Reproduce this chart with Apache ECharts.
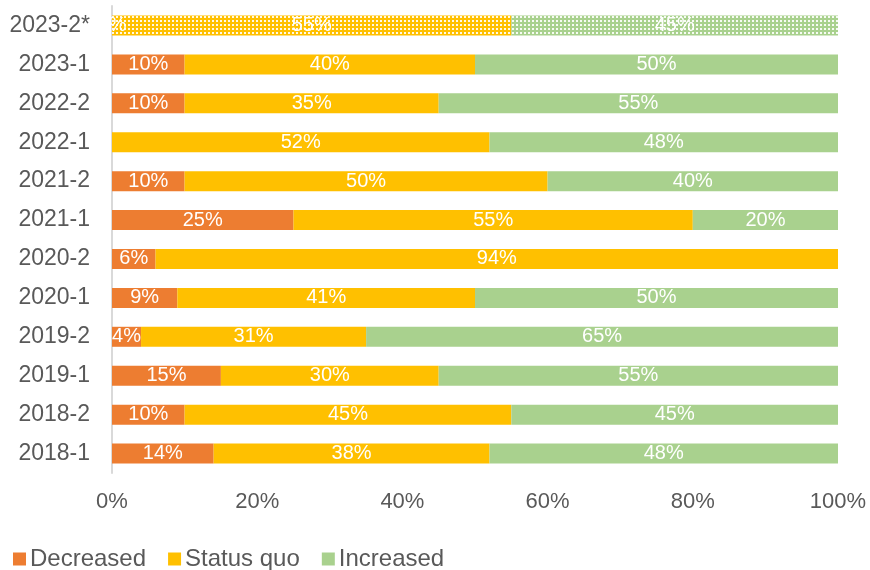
<!DOCTYPE html>
<html>
<head>
<meta charset="utf-8">
<script src="https://cdn.jsdelivr.net/npm/echarts@6/dist/echarts.min.js"></script>
<style>
  html, body { margin: 0; padding: 0; background: #fff; }
  #chart { width: 870px; height: 570px; }
</style>
</head>
<body>
<div id="chart"></div>
<script>
// Half-year periods, bottom to top
const periods = ['2018-1', '2018-2', '2019-1', '2019-2', '2020-1', '2020-2',
                 '2021-1', '2021-2', '2022-1', '2022-2', '2023-1', '2023-2*'];

// Share of responses (%) per period
const decreased  = [14, 10, 15, 4, 9, 6, 25, 10, null, 10, 10, 0];
const statusQuo  = [38, 45, 30, 31, 41, 94, 55, 50, 52, 35, 40, 55];
const increased  = [48, 45, 55, 65, 50, null, 20, 40, 48, 55, 50, 45];

const seriesNames = ['Decreased', 'Status quo', 'Increased'];
const colors = ['#ED7D31', '#FFC000', '#A9D18E'];

// Index of the forecast period, drawn with a dotted fill
const forecastIndex = periods.length - 1;

function dottedPattern(base) {
  const c = document.createElement('canvas');
  c.width = 4; c.height = 4;
  const ctx = c.getContext('2d');
  ctx.fillStyle = base;
  ctx.fillRect(0, 0, 4, 4);
  ctx.fillStyle = 'rgba(255,255,255,0.9)';
  ctx.fillRect(0, 0, 2, 2);
  return { image: c, repeat: 'repeat' };
}

function buildData(values, color) {
  return values.map((v, i) => {
    if (i === forecastIndex) {
      return { value: v, itemStyle: { color: dottedPattern(color) } };
    }
    return v;
  });
}

const chart = echarts.init(document.getElementById('chart'));
const font = 'Liberation Sans, Arial, sans-serif';

chart.setOption({
  animation: false,
  color: colors,
  textStyle: { fontFamily: font },
  grid: { left: 112, right: 32, top: 6, bottom: 97, containLabel: false },
  xAxis: {
    type: 'value',
    min: 0, max: 100, interval: 20,
    axisLine: { show: false },
    axisTick: { show: false },
    splitLine: { show: false },
    axisLabel: { formatter: '{value}%', color: '#595959', fontSize: 22, margin: 18, fontFamily: font }
  },
  yAxis: {
    type: 'category',
    data: periods,
    axisLine: { show: true, lineStyle: { color: '#D9D9D9', width: 2 } },
    axisTick: { show: false },
    axisLabel: { color: '#595959', fontSize: 23, margin: 22, fontFamily: font }
  },
  legend: {
    left: 8, top: 542,
    itemWidth: 13, itemHeight: 13, itemGap: 22,
    icon: 'rect',
    textStyle: { color: '#595959', fontSize: 24, fontFamily: font, padding: [0, 0, 0, -1] },
    data: seriesNames
  },
  series: [decreased, statusQuo, increased].map((vals, k) => ({
    name: seriesNames[k],
    type: 'bar',
    stack: 'total',
    barWidth: 20,
    data: buildData(vals, colors[k]),
    label: {
      show: true,
      position: 'inside',
      color: '#fff',
      fontSize: 20,
      fontFamily: font,
      formatter: p => (p.value === null || p.value === undefined) ? '' : p.value + '%'
    }
  }))
});
</script>
</body>
</html>
